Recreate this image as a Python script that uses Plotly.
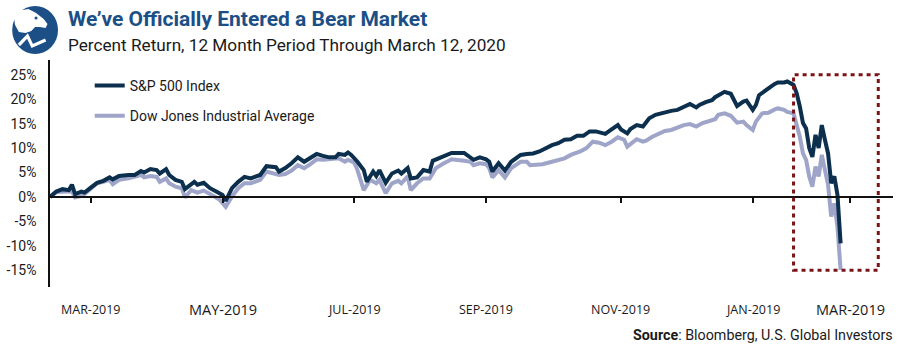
import base64
import plotly.graph_objects as go

# ---------------- data ----------------
# x = trading-day index counted from March 12, 2019; y = percent return
sp_day = [0, 2, 4, 6, 7, 8, 10, 11, 13, 15, 17, 19, 20, 22, 25, 27, 29, 30, 32, 34, 35, 37, 38, 40, 42, 43,
          46, 47, 49, 51, 53, 55, 56, 58, 60, 62, 64, 67, 69, 72, 73, 75, 77, 79, 81, 83, 85, 87, 89, 91, 92,
          94, 95, 96, 98, 100, 101, 103, 104, 105, 107, 109, 111, 112, 114, 115, 117, 119, 121, 122, 125,
          128, 132, 134, 135, 137, 139, 140, 141, 143, 145, 147, 150, 152, 154, 156, 158, 160, 162, 164,
          166, 168, 170, 172, 174, 177, 179, 181, 182, 184, 185, 187, 189, 190, 191, 193, 195, 198, 200,
          201, 203, 204, 206, 207, 209, 211, 212, 214, 215, 217, 218, 219, 221, 222, 224, 225, 226, 228,
          229, 231, 232, 234, 235, 237, 238, 239, 240, 241, 242, 243, 244, 245, 246, 247, 248, 249, 250,
          251, 252]
sp_ret = [0.0, 1.1, 1.6, 1.4, 2.5, 0.6, 1.1, 0.9, 1.9, 2.9, 3.3, 4.0, 3.6, 4.3, 4.5, 4.5, 5.3, 5.0, 5.7, 5.5,
          4.8, 5.7, 4.5, 3.5, 3.1, 1.6, 3.1, 2.5, 2.9, 1.8, 1.1, 0.4, -0.8, 1.8, 3.1, 4.1, 3.8, 4.5, 6.3, 6.1,
          5.2, 5.9, 6.9, 8.1, 7.2, 8.1, 8.8, 8.4, 8.1, 8.1, 8.8, 8.6, 9.1, 8.6, 7.2, 5.5, 3.1, 5.2, 4.3, 5.5,
          2.9, 4.8, 5.4, 4.8, 5.9, 3.8, 4.0, 5.5, 5.2, 7.4, 8.2, 9.0, 9.0, 8.2, 7.6, 8.1, 7.7, 7.2, 5.2, 6.9,
          5.4, 7.2, 8.6, 8.8, 8.9, 9.3, 10.0, 10.6, 11.0, 11.7, 11.8, 12.5, 12.5, 13.4, 13.4, 12.9, 13.8,
          14.7, 13.8, 13.0, 13.9, 14.7, 14.4, 15.2, 16.1, 16.8, 17.2, 17.6, 17.8, 18.1, 18.5, 19.0, 18.3,
          18.8, 19.4, 19.8, 20.4, 21.3, 21.5, 21.1, 19.8, 18.6, 19.5, 19.7, 17.8, 18.8, 20.8, 21.9, 22.2,
          23.1, 23.4, 23.4, 23.6, 22.9, 21.2, 18.5, 15.1, 14.0, 10.0, 8.2, 12.7, 10.0, 14.7, 11.7, 8.9, 2.8,
          4.2, 0.4, -9.5]

dj_day = [0, 2, 6, 7, 8, 10, 11, 14, 15, 17, 19, 20, 22, 25, 28, 29, 30, 32, 34, 35, 37, 38, 40, 42, 43, 45,
          47, 49, 51, 54, 56, 58, 60, 62, 64, 67, 69, 72, 73, 75, 77, 79, 81, 83, 85, 87, 90, 92, 94, 95, 97,
          98, 100, 102, 104, 105, 107, 109, 111, 112, 114, 115, 117, 119, 121, 123, 125, 128, 132, 134, 135,
          137, 139, 140, 141, 143, 145, 147, 150, 152, 153, 155, 157, 160, 162, 164, 166, 169, 171, 173, 175,
          177, 179, 181, 183, 184, 185, 187, 189, 190, 192, 194, 196, 198, 200, 202, 204, 206, 208, 210, 212,
          213, 215, 217, 219, 221, 222, 224, 225, 227, 229, 231, 232, 234, 235, 237, 238, 239, 240, 241, 242,
          243, 244, 245, 246, 247, 248, 249, 250, 251, 252]
dj_ret = [0.0, 1.0, 1.1, 1.1, -0.1, 0.2, 0.6, 2.1, 2.8, 3.1, 3.5, 2.6, 3.5, 3.8, 4.2, 4.5, 4.0, 4.3, 4.1, 3.1,
          3.8, 2.8, 2.1, 1.8, -0.1, 1.4, 0.9, 1.3, 0.6, -0.5, -2.0, 0.1, 1.8, 2.8, 2.8, 3.5, 5.2, 4.8, 4.5,
          4.7, 5.4, 6.5, 5.9, 6.7, 7.7, 7.6, 7.7, 7.9, 7.2, 7.6, 7.0, 5.5, 1.4, 3.5, 2.8, 3.5, 0.8, 2.8, 3.3,
          2.8, 4.2, 1.4, 2.8, 3.8, 3.8, 5.9, 6.7, 7.7, 7.4, 7.2, 6.5, 6.9, 6.7, 5.9, 4.0, 5.5, 4.0, 5.9, 7.2,
          7.2, 6.5, 6.5, 6.7, 7.2, 7.6, 7.9, 8.6, 9.3, 10.0, 11.3, 11.1, 10.6, 11.3, 12.2, 11.7, 10.3, 10.8,
          11.8, 11.3, 11.5, 12.3, 13.0, 13.5, 13.7, 14.2, 14.7, 14.9, 14.4, 15.1, 15.4, 15.9, 16.8, 17.1,
          16.6, 15.2, 15.4, 14.7, 13.7, 15.4, 17.1, 17.2, 17.9, 18.1, 17.8, 17.4, 17.1, 14.7, 12.3, 8.9, 7.6,
          4.2, 2.1, 6.2, 4.2, 8.6, 5.5, 2.5, -4.0, -1.3, -6.1, -14.9]

series_names = ["S&P 500 Index", "Dow Jones Industrial Average"]

tick_days = [13, 55, 97, 139, 182, 224, 255]
tick_text = ["MAR-2019", "MAY-2019", "JUL-2019", "SEP-2019", "NOV-2019", "JAN-2019", "MAR-2019"]
tick_big = [False, True, False, False, False, False, True]

y_tick_vals = [25, 20, 15, 10, 5, 0, -5, -10, -15]
y_tick_text = ["25%", "20%", "15%", "10%", "5%", "0%", "-5%", "-10%", "-15%"]

# highlighted sell-off window (trading-day index, percent)
box_day = [237, 264]
box_ret = [-15, 25]

title_text = "We\u2019ve Officially Entered a Bear Market"
subtitle_text = "Percent Return, 12 Month Period Through March 12, 2020"
source_text = "<b>Source</b>: Bloomberg, U.S. Global Investors"

# ---------------- layout geometry ----------------
W, H = 900, 354
L, R, T, B = 44, 893, 60, 287
X_RANGE = [0, 268.7]
Y_RANGE = [-18.4, 28.0]


def px(x):
    return (x - L) / (R - L)


def py(y):
    return (B - y) / (B - T)


SP_COLOR = "#0c2f4e"
DJ_COLOR = "#9ea5c9"
NAVY = "#1b4f86"
TEXT = "#1a1a1a"

fig = go.Figure()
fig.add_trace(go.Scatter(x=dj_day, y=dj_ret, mode="lines", name=series_names[1],
                         line=dict(color=DJ_COLOR, width=4), legendgroup="b", legendrank=2))
fig.add_trace(go.Scatter(x=sp_day, y=sp_ret, mode="lines", name=series_names[0],
                         line=dict(color=SP_COLOR, width=4), legendgroup="a", legendrank=1))

fig.add_shape(type="rect", xref="x", yref="y", x0=box_day[0], x1=box_day[1], y0=box_ret[0], y1=box_ret[1],
              line=dict(color="#7a1418", width=3, dash="4px,4px"), fillcolor="rgba(0,0,0,0)")

annotations = []
for d, t, big in zip(tick_days, tick_text, tick_big):
    annotations.append(dict(x=d, xref="x", y=py(309), yref="paper", text=t, showarrow=False,
                            xanchor="center", yanchor="middle",
                            font=dict(family="Open Sans", size=14.5 if big else 12.5, color=TEXT)))
annotations.append(dict(x=px(60), y=py(19), xref="paper", yref="paper", text=f"<b>{title_text}</b>",
                        showarrow=False, xanchor="left", yanchor="middle",
                        font=dict(family="Roboto", size=21, color=NAVY)))
annotations.append(dict(x=px(60), y=py(45), xref="paper", yref="paper", text=subtitle_text,
                        showarrow=False, xanchor="left", yanchor="middle",
                        font=dict(family="Roboto", size=17.2, color=TEXT)))
annotations.append(dict(x=px(895), y=py(335), xref="paper", yref="paper", text=source_text,
                        showarrow=False, xanchor="right", yanchor="middle",
                        font=dict(family="Roboto", size=14.3, color=TEXT)))

logo_svg = (
    "<svg xmlns='http://www.w3.org/2000/svg' width='52' height='52' viewBox='0 0 52 52'>"
    "<circle cx='26' cy='27' r='24' fill='#1b4f86'/>"
    "<path d='M3 9 L9 5 L13 7 L19 6 L27 10 L35 16 L39 21 L37 25 L31 24 L26 24 L22 28 L16 30 L9 29 L5 22 Z' fill='white'/>"
    "<circle cx='27' cy='15' r='1.6' fill='#1b4f86'/>"
    "<polyline points='9,42 18,33 23,43 37,37' fill='none' stroke='white' stroke-width='3.2'/>"
    "</svg>"
)
logo_src = "data:image/svg+xml;base64," + base64.b64encode(logo_svg.encode()).decode()

fig.update_layout(
    width=W, height=H,
    margin=dict(l=L, r=W - R, t=T, b=H - B, pad=0),
    paper_bgcolor="white", plot_bgcolor="white",
    showlegend=True,
    legend=dict(x=px(84), y=py(70), xanchor="left", yanchor="top", traceorder="grouped",
                tracegroupgap=9, bgcolor="rgba(0,0,0,0)", borderwidth=0,
                font=dict(family="Roboto", size=14, color=TEXT), itemwidth=30),
    annotations=annotations,
    images=[dict(source=logo_src, xref="paper", yref="paper", x=px(4), y=py(3),
                 sizex=50 / (R - L), sizey=52 / (B - T), xanchor="left", yanchor="top",
                 sizing="stretch", layer="above")],
    xaxis=dict(range=X_RANGE, anchor="free", position=(0 - Y_RANGE[0]) / (Y_RANGE[1] - Y_RANGE[0]),
               showline=True, linecolor="#111111", linewidth=1.5, showgrid=False, zeroline=False,
               tickmode="array", tickvals=tick_days, ticks="outside", ticklen=5, tickwidth=1.5,
               tickcolor="#111111", showticklabels=False),
    yaxis=dict(range=Y_RANGE, showline=True, linecolor="#111111", linewidth=1.5, showgrid=False,
               zeroline=False, tickmode="array", tickvals=y_tick_vals, ticktext=y_tick_text,
               ticks="outside", ticklen=9, tickcolor="rgba(0,0,0,0)",
               tickfont=dict(family="Roboto", size=14, color=TEXT)),
)

fig.write_html("out.html")
